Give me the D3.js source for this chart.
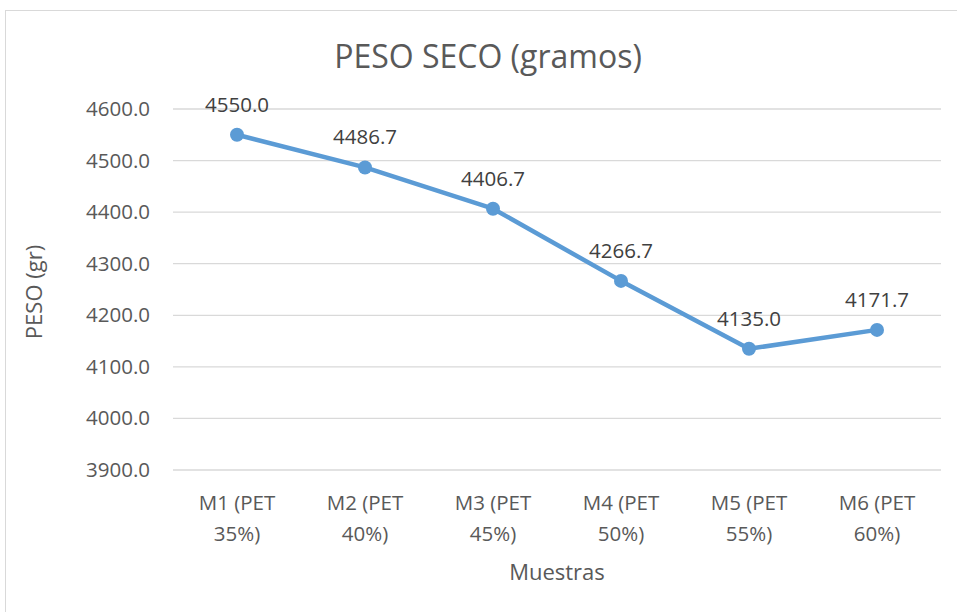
<!DOCTYPE html>
<html><head><meta charset="utf-8">
<script src="https://cdn.jsdelivr.net/npm/d3@7"></script>
<style>body{margin:0;background:#fff}svg{display:block}</style>
</head><body>
<script>
const categories = ["M1 (PET 35%)","M2 (PET 40%)","M3 (PET 45%)","M4 (PET 50%)","M5 (PET 55%)","M6 (PET 60%)"];
const catLine1 = ["M1 (PET","M2 (PET","M3 (PET","M4 (PET","M5 (PET","M6 (PET"];
const catLine2 = ["35%)","40%)","45%)","50%)","55%)","60%)"];
const values = [4550.0, 4486.7, 4406.7, 4266.7, 4135.0, 4171.7];
const yTicks = [3900,4000,4100,4200,4300,4400,4500,4600];

const W=957,H=612;
const font="Open Sans";
const svg=d3.select("body").append("svg").attr("width",W).attr("height",H);
svg.append("rect").attr("x",5.5).attr("y",10.5).attr("width",W).attr("height",H).attr("fill","#fff").attr("stroke","#d9d9d9");
const x=d3.scaleBand().domain(categories).range([173,941]);
const y=d3.scaleLinear().domain([3900,4600]).range([470,109]);
// gridlines
svg.append("g").selectAll("line").data(yTicks).join("line")
 .attr("x1",173).attr("x2",941).attr("y1",d=>y(d)).attr("y2",d=>y(d))
 .attr("stroke","#d9d9d9").attr("stroke-width",1.3);
// y tick labels
const yAxis=d3.axisLeft(y).tickValues(yTicks).tickFormat(d3.format(".1f")).tickSize(0).tickPadding(23);
const ga=svg.append("g").attr("transform","translate(173,0)").call(yAxis);
ga.attr("font-family",font).attr("font-size",20.5);
ga.select(".domain").remove();
ga.selectAll("text").attr("fill","#595959");
// x labels
const gx=svg.append("g").attr("font-family",font).attr("font-size",20.5).attr("fill","#595959");
categories.forEach((c,i)=>{
  const cx=x(c)+x.bandwidth()/2;
  gx.append("text").attr("x",cx).attr("y",510).attr("text-anchor","middle").text(catLine1[i]);
  gx.append("text").attr("x",cx).attr("y",541).attr("text-anchor","middle").text(catLine2[i]);
});
// titles
svg.append("text").attr("x",488).attr("y",68).attr("text-anchor","middle").attr("fill","#595959").attr("font-family",font).attr("font-size",32).text("PESO SECO (gramos)");
svg.append("text").attr("x",557).attr("y",580).attr("text-anchor","middle").attr("fill","#595959").attr("font-family",font).attr("font-size",22).text("Muestras");
svg.append("text").attr("transform","translate(42,292) rotate(-90)").attr("text-anchor","middle").attr("fill","#595959").attr("font-family",font).attr("font-size",22).text("PESO (gr)");
// line
const line=d3.line().x((d,i)=>x(categories[i])+x.bandwidth()/2).y(d=>y(d));
svg.append("path").datum(values).attr("d",line).attr("fill","none").attr("stroke","#5B9BD5").attr("stroke-width",4.5).attr("stroke-linejoin","round");
svg.append("g").selectAll("circle").data(values).join("circle")
 .attr("cx",(d,i)=>x(categories[i])+x.bandwidth()/2).attr("cy",d=>y(d)).attr("r",7).attr("fill","#5B9BD5");
svg.append("g").selectAll("text").data(values).join("text")
 .attr("x",(d,i)=>x(categories[i])+x.bandwidth()/2).attr("y",d=>y(d)-23)
 .attr("text-anchor","middle").attr("fill","#404040").attr("font-family",font).attr("font-size",20.5)
 .text(d=>d3.format(".1f")(d));
</script>
</body></html>
